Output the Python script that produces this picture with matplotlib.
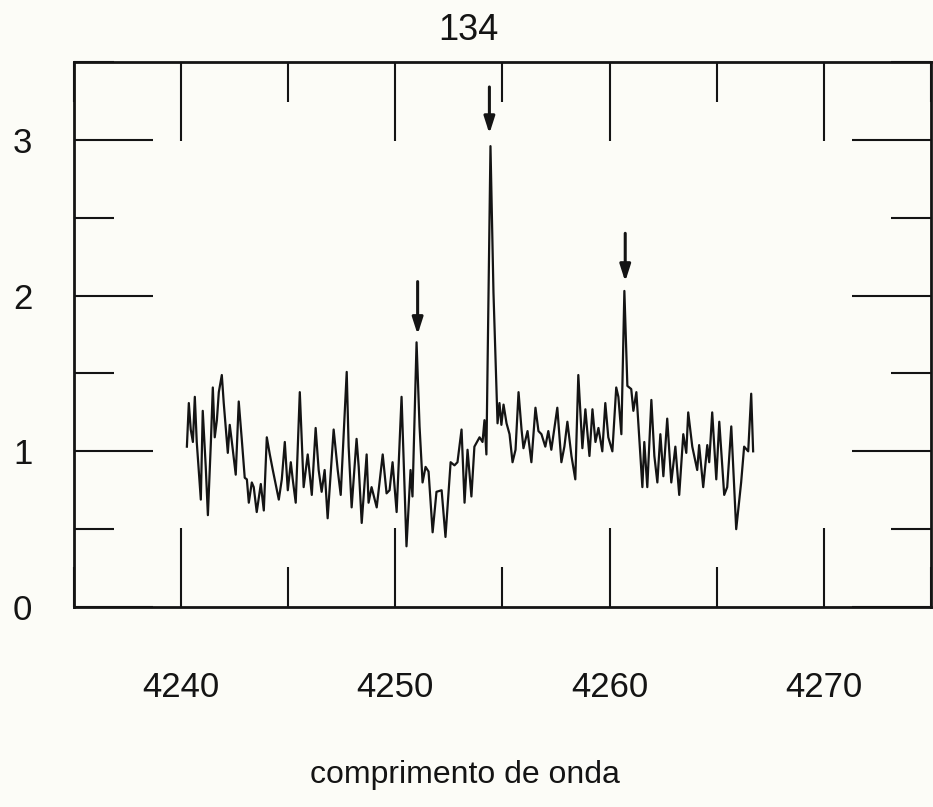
# Spectrum plot "134" - scanned thesis figure, recreated.
import matplotlib
matplotlib.use('Agg')
import matplotlib.pyplot as plt
from matplotlib.ticker import MultipleLocator

# wavelength (A) and relative flux
wl = [4240.27, 4240.36, 4240.45, 4240.55, 4240.64, 4240.73, 4240.92,
      4241.01, 4241.15, 4241.25, 4241.39, 4241.48, 4241.57, 4241.67, 4241.76, 4241.90, 4241.99,
      4242.18, 4242.27, 4242.37, 4242.55, 4242.69, 4242.83, 4242.97,
      4243.07, 4243.16, 4243.30, 4243.39, 4243.53, 4243.72, 4243.86,
      4244.00, 4244.14, 4244.28,
      4244.56, 4244.70, 4244.84, 4244.98, 4245.12, 4245.21, 4245.35, 4245.54, 4245.72, 4245.91,
      4246.10, 4246.28, 4246.42, 4246.56, 4246.70, 4246.84, 4247.12, 4247.31, 4247.45, 4247.73,
      4247.82, 4247.96, 4248.19, 4248.29, 4248.43, 4248.66, 4248.75, 4248.89,
      4249.13, 4249.41, 4249.59, 4249.73, 4249.87, 4250.06, 4250.29, 4250.43, 4250.52, 4250.71,
      4250.80, 4250.99, 4251.13, 4251.27, 4251.41, 4251.55, 4251.74, 4251.92, 4252.16, 4252.34,
      4252.58, 4252.76, 4252.90, 4253.09, 4253.23,
      4253.37, 4253.55, 4253.69, 4253.93, 4254.07, 4254.16, 4254.25, 4254.44, 4254.58, 4254.77,
      4254.86, 4254.95, 4255.05, 4255.19, 4255.33, 4255.47, 4255.61, 4255.75, 4255.89, 4255.98,
      4256.17, 4256.35, 4256.54, 4256.68, 4256.82, 4257.00, 4257.14, 4257.28, 4257.56, 4257.75,
      4257.89, 4258.03, 4258.22, 4258.40, 4258.54, 4258.73, 4258.87, 4259.06, 4259.20, 4259.34,
      4259.48, 4259.66, 4259.80, 4259.94, 4260.13, 4260.31, 4260.41, 4260.55, 4260.69, 4260.83,
      4261.01, 4261.11, 4261.25, 4261.53, 4261.62, 4261.76, 4261.95, 4262.09,
      4262.23, 4262.37, 4262.51, 4262.69, 4262.88, 4263.07, 4263.25, 4263.44, 4263.58, 4263.67,
      4263.86, 4264.09, 4264.18, 4264.37, 4264.56, 4264.65, 4264.79, 4264.98, 4265.12, 4265.35,
      4265.49, 4265.68, 4265.91, 4266.14, 4266.28, 4266.47, 4266.61, 4266.70]
flux = [1.03, 1.31, 1.14, 1.06, 1.35, 1.06, 0.69,
        1.26, 0.90, 0.59, 1.06, 1.41, 1.09, 1.20, 1.38, 1.49, 1.31,
        0.99, 1.17, 1.06, 0.85, 1.32, 1.08, 0.83,
        0.82, 0.67, 0.80, 0.77, 0.61, 0.79, 0.62,
        1.09, 0.98, 0.88,
        0.69, 0.82, 1.06, 0.75, 0.93, 0.82, 0.67, 1.38, 0.77, 0.98,
        0.72, 1.15, 0.88, 0.74, 0.88, 0.57, 1.14, 0.88, 0.72, 1.51,
        1.03, 0.64, 1.08, 0.90, 0.54, 0.98, 0.67, 0.77,
        0.64, 0.98, 0.73, 0.75, 0.93, 0.61, 1.35, 0.77, 0.39, 0.88,
        0.71, 1.70, 1.16, 0.80, 0.90, 0.87, 0.48, 0.74, 0.75, 0.45,
        0.93, 0.91, 0.93, 1.14, 0.67,
        1.01, 0.71, 1.03, 1.09, 1.06, 1.20, 0.98, 2.96, 2.02, 1.18,
        1.31, 1.17, 1.30, 1.18, 1.11, 0.93, 1.01, 1.38, 1.14, 1.02,
        1.13, 0.93, 1.28, 1.13, 1.11, 1.03, 1.13, 1.01, 1.28, 0.93,
        1.03, 1.19, 0.97, 0.82, 1.49, 1.02, 1.27, 0.97, 1.27, 1.06,
        1.15, 1.00, 1.31, 1.09, 1.00, 1.41, 1.35, 1.11, 2.03, 1.42,
        1.40, 1.26, 1.38, 0.77, 1.06, 0.77, 1.33, 0.97,
        0.80, 1.11, 0.84, 1.21, 0.80, 1.03, 0.72, 1.11, 0.99, 1.25,
        1.03, 0.88, 1.04, 0.77, 1.04, 0.93, 1.25, 0.82, 1.19, 0.72,
        0.77, 1.16, 0.50, 0.80, 1.03, 1.00, 1.37, 1.00]

# marked lines (arrows)
arrow_wl = [4251.04, 4254.39, 4260.73]
arrow_tail = [2.09, 3.34, 2.40]
arrow_tip = [1.75, 3.04, 2.09]

x_ticks = [4240, 4250, 4260, 4270]
y_ticks = [0, 1, 2, 3]
title = "134"
xlabel = "comprimento de onda"

ink = "#141414"
paper = "#fcfcf7"
plt.rcParams["font.family"] = ["Liberation Sans", "DejaVu Sans"]

fig = plt.figure(figsize=(9.33, 8.07), dpi=100, facecolor=paper)
ax = fig.add_axes([0.0793, 0.2478, 0.9185, 0.6753], facecolor=paper)

ax.plot(wl, flux, color=ink, lw=1.6)
for x, y0, y1 in zip(arrow_wl, arrow_tail, arrow_tip):
    ax.annotate("", xy=(x, y1), xytext=(x, y0),
                arrowprops=dict(arrowstyle="-|>,head_length=1.0,head_width=0.32",
                                color=ink, lw=2.2, shrinkA=0, shrinkB=0))

ax.set_xlim(4235, 4275)
ax.set_ylim(0, 3.5)
ax.set_xticks(x_ticks)
ax.set_yticks(y_ticks)
ax.xaxis.set_minor_locator(MultipleLocator(5))
ax.yaxis.set_minor_locator(MultipleLocator(0.5))
ax.tick_params(which="both", direction="in", top=True, right=True,
               width=1.5, color=ink, labelsize=25, labelcolor=ink)
ax.tick_params(which="major", length=57)
ax.tick_params(which="minor", length=29)
ax.tick_params(axis="x", pad=46)
ax.tick_params(axis="y", pad=30)
for s in ax.spines.values():
    s.set_linewidth(2)
    s.set_color(ink)

fig.text(468 / 933, 1 - 30 / 807, title, ha="center", va="center", fontsize=26, color=ink)
fig.text(465 / 933, 1 - 775 / 807, xlabel, ha="center", va="center", fontsize=23, color=ink)

fig.savefig("out.png", dpi=100, facecolor=paper)
